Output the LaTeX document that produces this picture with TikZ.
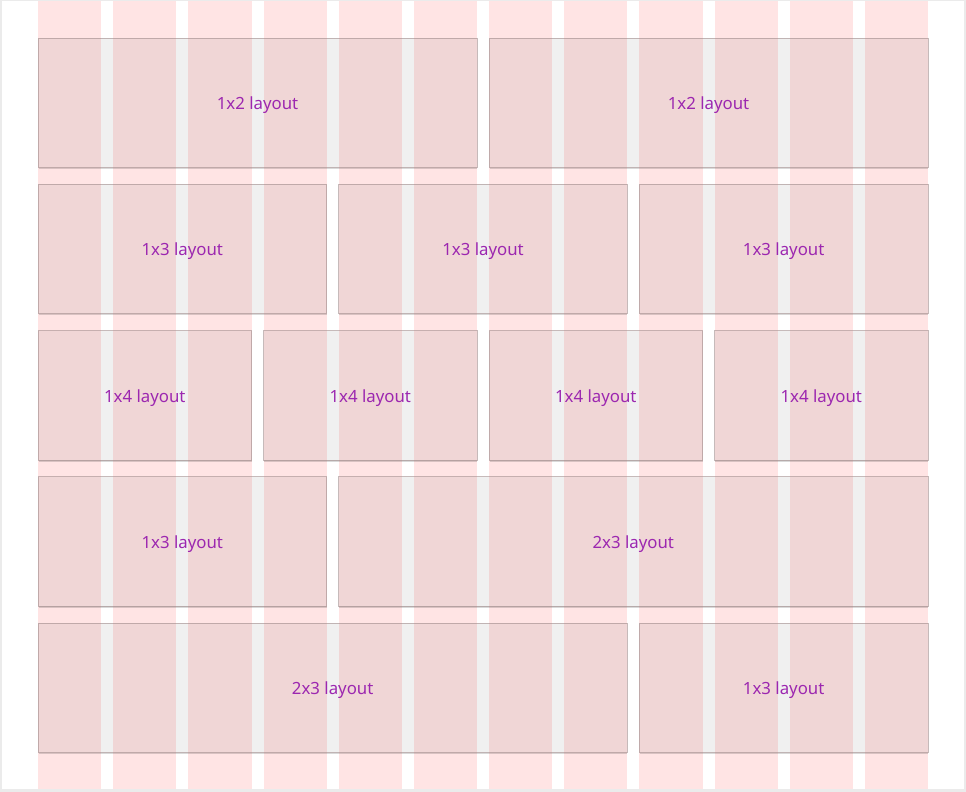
\documentclass[tikz,border=0pt]{standalone}
\usepackage{fontspec}
\setmainfont{Noto Sans}
\definecolor{colpink}{HTML}{FFE4E4}
\definecolor{framegray}{HTML}{EBEBEB}
\definecolor{labelpurple}{HTML}{9C27B0}
\definecolor{edgegray}{HTML}{A08C8C}
\newcommand{\colL}[1]{38+#1*75.1667}
\newcommand{\colR}[1]{38+#1*75.1667+63.1667}
\newcommand{\rowT}[1]{38+#1*146.25}
\newcommand{\rowB}[1]{38+#1*146.25+129.5}
% card from column #1 to column #2 in row #3
\newcommand{\card}[5]{%
  \draw[black, opacity=0.15, line width=1.5pt] ({\colL{#1}+0.5},{\rowB{#3}+0.8}) -- ({\colR{#2}},{\rowB{#3}+0.8});
  \node[card, minimum width={(\colR{#2})-(\colL{#1})}, minimum height=129.5]
    (#4) at ({((\colL{#1})+(\colR{#2}))/2},{\rowT{#3}+64.75}) {};
  \node[cardlabel, yshift=-2.5pt] (#4-t) at (#4) {#5};
}
\tikzset{
  card/.style={draw=edgegray, draw opacity=0.6, line width=0.7pt, fill=black, fill opacity=0.06, inner sep=0pt},
  cardlabel/.style={text=labelpurple, font=\fontsize{16.8}{20}\selectfont, inner sep=0pt},
}
\begin{document}
\begin{tikzpicture}[x=1pt, y=-1pt]
  % frame
  \fill[framegray] (0,0) rectangle (966,792);
  \fill[white] (2,1) rectangle (964,789);
  \useasboundingbox (0,0) rectangle (966,792);
  % columns
  \foreach \i in {0,...,11}
    \fill[colpink] ({\colL{\i}},1) rectangle ({\colR{\i}},789);
  % cards
  \card{0}{5}{0}{r0a}{1x2 layout}
  \card{6}{11}{0}{r0b}{1x2 layout}
  \card{0}{3}{1}{r1a}{1x3 layout}
  \card{4}{7}{1}{r1b}{1x3 layout}
  \card{8}{11}{1}{r1c}{1x3 layout}
  \card{0}{2}{2}{r2a}{1x4 layout}
  \card{3}{5}{2}{r2b}{1x4 layout}
  \card{6}{8}{2}{r2c}{1x4 layout}
  \card{9}{11}{2}{r2d}{1x4 layout}
  \card{0}{3}{3}{r3a}{1x3 layout}
  \card{4}{11}{3}{r3b}{2x3 layout}
  \card{0}{7}{4}{r4a}{2x3 layout}
  \card{8}{11}{4}{r4b}{1x3 layout}
\end{tikzpicture}
\end{document}
